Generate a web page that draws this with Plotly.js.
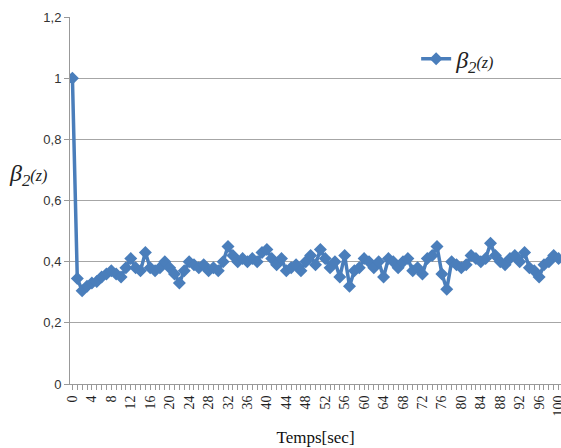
<!DOCTYPE html>
<html><head><meta charset="utf-8">
<script src="https://cdn.plot.ly/plotly-3.0.1.min.js"></script>
<style>html,body{margin:0;padding:0;background:#fff}#chart{width:561px;height:448px}</style>
</head><body><div id="chart"></div>
<script>
const times = Array.from({length:101},(_,i)=>i);
const beta2 = [1.00,0.345,0.305,0.32,0.33,0.335,0.35,0.36,0.37,0.36,0.35,0.38,0.41,0.38,0.37,0.43,0.38,0.37,0.38,0.40,0.38,0.36,0.33,0.37,0.40,0.39,0.38,0.39,0.37,0.38,0.37,0.40,0.45,0.42,0.40,0.41,0.40,0.41,0.40,0.43,0.44,0.41,0.39,0.41,0.37,0.38,0.39,0.37,0.40,0.42,0.39,0.44,0.41,0.38,0.40,0.35,0.42,0.32,0.37,0.38,0.41,0.40,0.38,0.40,0.35,0.41,0.40,0.38,0.40,0.41,0.37,0.38,0.36,0.41,0.42,0.45,0.36,0.31,0.40,0.39,0.38,0.39,0.42,0.41,0.40,0.41,0.46,0.42,0.40,0.39,0.41,0.42,0.40,0.43,0.38,0.37,0.35,0.39,0.40,0.42,0.41];
const xTicks = [0,4,8,12,16,20,24,28,32,36,40,44,48,52,56,60,64,68,72,76,80,84,88,92,96,100];
const yTicks = [0,0.2,0.4,0.6,0.8,1,1.2];
const seriesName = '<i>β<sub>2</sub></i><span style="font-size:16px"><i>(z)</i></span>';

const trace = {
  x: times, y: beta2, type:'scatter', mode:'lines+markers', name: seriesName,
  line:{color:'#4a7ebb', width:3.5},
  marker:{symbol:'diamond', size:10, color:'#4a7ebb'}
};
const layout = {
  width:561, height:448,
  margin:{l:70, r:0, t:17, b:64},
  paper_bgcolor:'#fff', plot_bgcolor:'#fff',
  separators:', ',
  showlegend:true,
  legend:{x:0.705, y:0.885, xanchor:'left', yanchor:'middle', bgcolor:'rgba(0,0,0,0)', itemwidth:30,
    font:{family:'Liberation Serif, serif', size:24, color:'#222'}},
  xaxis:{range:[-0.5,100.5], tickmode:'array', tickvals:xTicks, ticktext:xTicks.map(String),
    tickangle:-90, ticks:'outside', ticklen:5, tickcolor:'#999', showgrid:false, ticklabeloverflow:'allow',
    showline:true, linecolor:'#999', linewidth:1, zeroline:false,
    minor:{dtick:1, ticks:'outside', ticklen:5, tickcolor:'#999', showgrid:false},
    tickfont:{family:'Liberation Serif, serif', size:14, color:'#222'},
    title:{text:'Temps[sec]', font:{family:'Liberation Serif, serif', size:17, color:'#111'}, standoff:15}},
  yaxis:{range:[0,1.2], tickmode:'array', tickvals:yTicks, ticks:'outside', ticklen:5, tickcolor:'#999',
    showgrid:true, gridcolor:'#a6a6a6', gridwidth:1, showline:true, linecolor:'#999', zeroline:false,
    tickfont:{family:'Liberation Sans, Arial, sans-serif', size:13, color:'#333'}},
  annotations:[{xref:'paper', yref:'paper', x:-0.128, y:0.57, xanchor:'left', yanchor:'middle', showarrow:false,
    text:'<i>β<sub>2</sub></i><span style="font-size:16px"><i>(z)</i></span>',
    font:{family:'Liberation Serif, serif', size:24, color:'#222'}}]
};
Plotly.newPlot('chart',[trace],layout,{displayModeBar:false, staticPlot:true});
</script></body></html>
